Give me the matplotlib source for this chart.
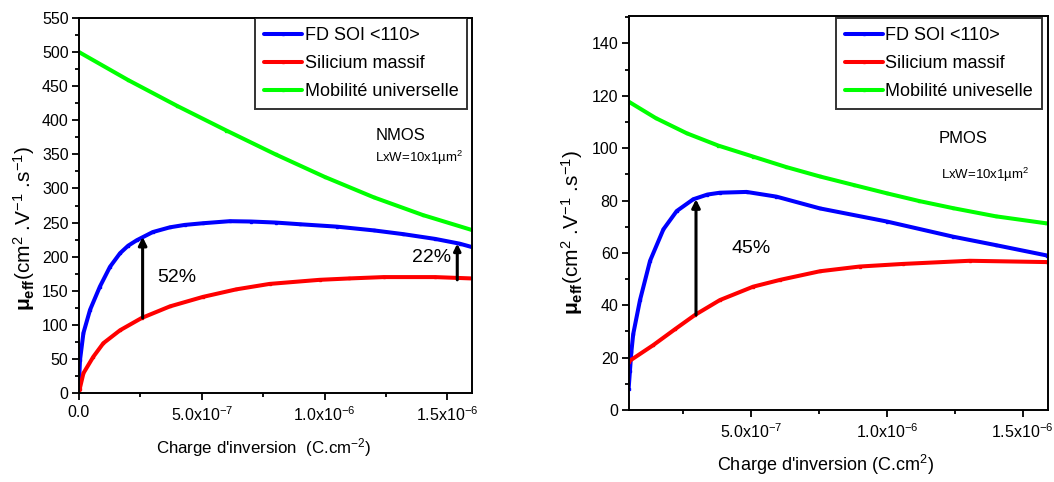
import matplotlib
matplotlib.use("Agg")
import matplotlib.pyplot as plt
from matplotlib.ticker import MultipleLocator, FixedLocator

plt.rcParams['font.family'] = ['Liberation Sans', 'DejaVu Sans']
plt.rcParams['mathtext.fontset'] = 'custom'
plt.rcParams['mathtext.rm'] = 'Liberation Sans'
plt.rcParams['mathtext.it'] = 'Liberation Sans:italic'
plt.rcParams['mathtext.bf'] = 'Liberation Sans:bold'

SCALE = 1e-7  # x values are given in units of 1e-7 C.cm^-2

# ---------------- NMOS data ----------------
n_fd_x = [0.0, 0.04, 0.18, 0.45, 0.85, 1.26, 1.67, 2.0, 2.35, 3.0, 3.7, 4.3, 5.05, 6.14, 7.0, 8.0, 9.0, 10.5, 12.0, 13.2, 14.5, 15.5, 16.0]
n_fd_y = [15, 48, 88, 122, 156, 185, 205, 216, 224, 236, 243, 246.5, 249, 252, 251.5, 250, 247.5, 244, 238.5, 233, 226, 219, 214]

n_bulk_x = [0.0, 0.03, 0.18, 0.58, 0.99, 1.67, 2.55, 3.7, 5.05, 6.4, 7.76, 9.8, 11.0, 12.4, 14.5, 16.0]
n_bulk_y = [0, 6, 29, 53, 73, 92, 110, 127, 141, 152, 160, 166, 168, 170, 170, 168]

n_univ_x = [0.0, 2.0, 4.0, 6.0, 8.0, 10.0, 12.0, 14.0, 16.0]
n_univ_y = [500, 459, 421, 385, 350, 317, 287, 261, 239]

# ---------------- PMOS data ----------------
p_fd_x = [0.5, 0.55, 0.6, 0.67, 0.92, 1.29, 1.78, 2.27, 2.88, 3.4, 3.86, 4.84, 5.94, 7.54, 10.0, 12.44, 14.0, 15.9]
p_fd_y = [8, 15, 22, 29, 42, 57, 69, 76, 80.5, 82.3, 83, 83.3, 81.5, 77, 72, 66.2, 63, 59]

p_bulk_x = [0.5, 1.41, 2.2, 2.94, 3.86, 5.08, 6.07, 7.54, 9.0, 10.6, 13.05, 15.9]
p_bulk_y = [18.5, 24.8, 30.8, 36.3, 42, 47.1, 49.7, 53, 54.8, 55.8, 57, 56.5]

p_univ_x = [0.5, 1.5, 2.64, 3.8, 5.08, 6.3, 7.54, 8.8, 9.99, 11.2, 12.44, 14.0, 15.87]
p_univ_y = [117.8, 111.5, 105.7, 101.0, 96.8, 92.8, 89.2, 85.9, 82.8, 79.8, 77.1, 74.0, 71.3]

# ---------------- labels ----------------
n_legend_labels = ['FD SOI <110>', 'Silicium massif', 'Mobilité universelle']
p_legend_labels = ['FD SOI <110>', 'Silicium massif', 'Mobilité univeselle']
n_xticks = [0.0, 5.0, 10.0, 15.0]
n_xticklabels = ['0.0', '5.0x10$^{-7}$', '1.0x10$^{-6}$', '1.5x10$^{-6}$']
p_xticks = [5.0, 10.0, 15.0]
p_xticklabels = ['5.0x10$^{-7}$', '1.0x10$^{-6}$', '1.5x10$^{-6}$']
ylabel = r'$\mathbf{\mu}_{\mathbf{eff}}$(cm$^{2}$ .V$^{-1}$ .s$^{-1}$)'

BLUE = '#0000ff'
RED = '#ff0000'
GREEN = '#00ff00'

W, H = 1054, 482
fig = plt.figure(figsize=(10.54, 4.82), dpi=100)
axL = fig.add_axes([79 / W, 1 - 393 / H, (472 - 79) / W, (393 - 18) / H])
axR = fig.add_axes([629 / W, 1 - 410 / H, (1048 - 629) / W, (410 - 16) / H])


def style_axes(ax):
    for s in ax.spines.values():
        s.set_linewidth(1.4)
    ax.tick_params(axis='both', which='both', direction='out', top=False, right=False, width=1.3)
    ax.tick_params(axis='y', labelsize=11.5, pad=2.5)
    ax.tick_params(axis='x', labelsize=11.5)
    ax.tick_params(which='major', length=5)
    ax.tick_params(which='minor', length=3)


def draw(ax, fdx, fdy, bx, by, ux, uy):
    sc = lambda v: [a * SCALE for a in v]
    kw = dict(lw=2.9, marker='s', ms=2.0, solid_capstyle='round', solid_joinstyle='round')
    l1, = ax.plot(sc(fdx), fdy, color=BLUE, **kw)
    l2, = ax.plot(sc(bx), by, color=RED, **kw)
    l3, = ax.plot(sc(ux), uy, color=GREEN, **kw)
    return [l1, l2, l3]


def px(x, y):
    return x / W, 1 - y / H


leg_kw = dict(loc='upper right', borderaxespad=0, frameon=True, fancybox=False, edgecolor='black',
              fontsize=13, handlelength=2.1, handletextpad=0.15, labelspacing=0.62, borderpad=0.5)

# ----- Left (NMOS) -----
hL = draw(axL, n_fd_x, n_fd_y, n_bulk_x, n_bulk_y, n_univ_x, n_univ_y)
axL.set_xlim(0, 16.0 * SCALE)
axL.set_ylim(0, 550)
axL.yaxis.set_major_locator(MultipleLocator(50))
axL.yaxis.set_minor_locator(MultipleLocator(25))
axL.xaxis.set_major_locator(FixedLocator([v * SCALE for v in n_xticks]))
axL.xaxis.set_minor_locator(FixedLocator([v * SCALE for v in [2.5, 7.5, 12.5]]))
axL.set_xticklabels(n_xticklabels)
style_axes(axL)
legL = axL.legend(hL, n_legend_labels, bbox_to_anchor=(0.988, 1.0), **leg_kw)
legL.get_frame().set_linewidth(1.4)
axL.text(0.819, 0.688, 'NMOS', transform=axL.transAxes, ha='center', va='center', fontsize=12)
axL.text(0.865, 0.627, 'LxW=10x1µm$^{2}$', transform=axL.transAxes, ha='center', va='center', fontsize=9.5)
axL.annotate('', xy=(2.59 * SCALE, 229), xytext=(2.59 * SCALE, 110),
             arrowprops=dict(arrowstyle='-|>', color='black', lw=2.2, mutation_scale=12, shrinkA=0, shrinkB=0))
axL.text(4.0 * SCALE, 169, '52%', ha='center', va='center', fontsize=14)
axL.annotate('', xy=(15.4 * SCALE, 219), xytext=(15.4 * SCALE, 166),
             arrowprops=dict(arrowstyle='-|>', color='black', lw=2.2, mutation_scale=10, shrinkA=0, shrinkB=0))
axL.text(14.35 * SCALE, 198, '22%', ha='center', va='center', fontsize=14)
fig.text(*px(264, 448), "Charge d'inversion  (C.cm$^{-2}$)", ha='center', va='center', fontsize=12.2)
fig.text(*px(24, 228), ylabel, ha='center', va='center', rotation=90, fontsize=15)

# ----- Right (PMOS) -----
hR = draw(axR, p_fd_x, p_fd_y, p_bulk_x, p_bulk_y, p_univ_x, p_univ_y)
axR.set_xlim(0.515 * SCALE, 15.93 * SCALE)
axR.set_ylim(0, 150.5)
axR.yaxis.set_major_locator(MultipleLocator(20))
axR.yaxis.set_minor_locator(MultipleLocator(10))
axR.xaxis.set_major_locator(FixedLocator([v * SCALE for v in p_xticks]))
axR.xaxis.set_minor_locator(FixedLocator([v * SCALE for v in [2.5, 7.5, 12.5]]))
axR.set_xticklabels(p_xticklabels)
style_axes(axR)
legR = axR.legend(hR, p_legend_labels, bbox_to_anchor=(0.986, 0.995), **leg_kw)
legR.get_frame().set_linewidth(1.4)
axR.text(0.797, 0.69, 'PMOS', transform=axR.transAxes, ha='center', va='center', fontsize=12)
axR.text(0.85, 0.596, 'LxW=10x1µm$^{2}$', transform=axR.transAxes, ha='center', va='center', fontsize=9.5)
axR.annotate('', xy=(2.98 * SCALE, 80.5), xytext=(2.98 * SCALE, 36.3),
             arrowprops=dict(arrowstyle='-|>', color='black', lw=2.2, mutation_scale=12, shrinkA=0, shrinkB=0))
axR.text(5.0 * SCALE, 61.5, '45%', ha='center', va='center', fontsize=14)
fig.text(*px(826, 465), "Charge d'inversion (C.cm$^{2}$)", ha='center', va='center', fontsize=13)
fig.text(*px(572, 232), ylabel, ha='center', va='center', rotation=90, fontsize=15)

fig.savefig('out.png', dpi=100)
